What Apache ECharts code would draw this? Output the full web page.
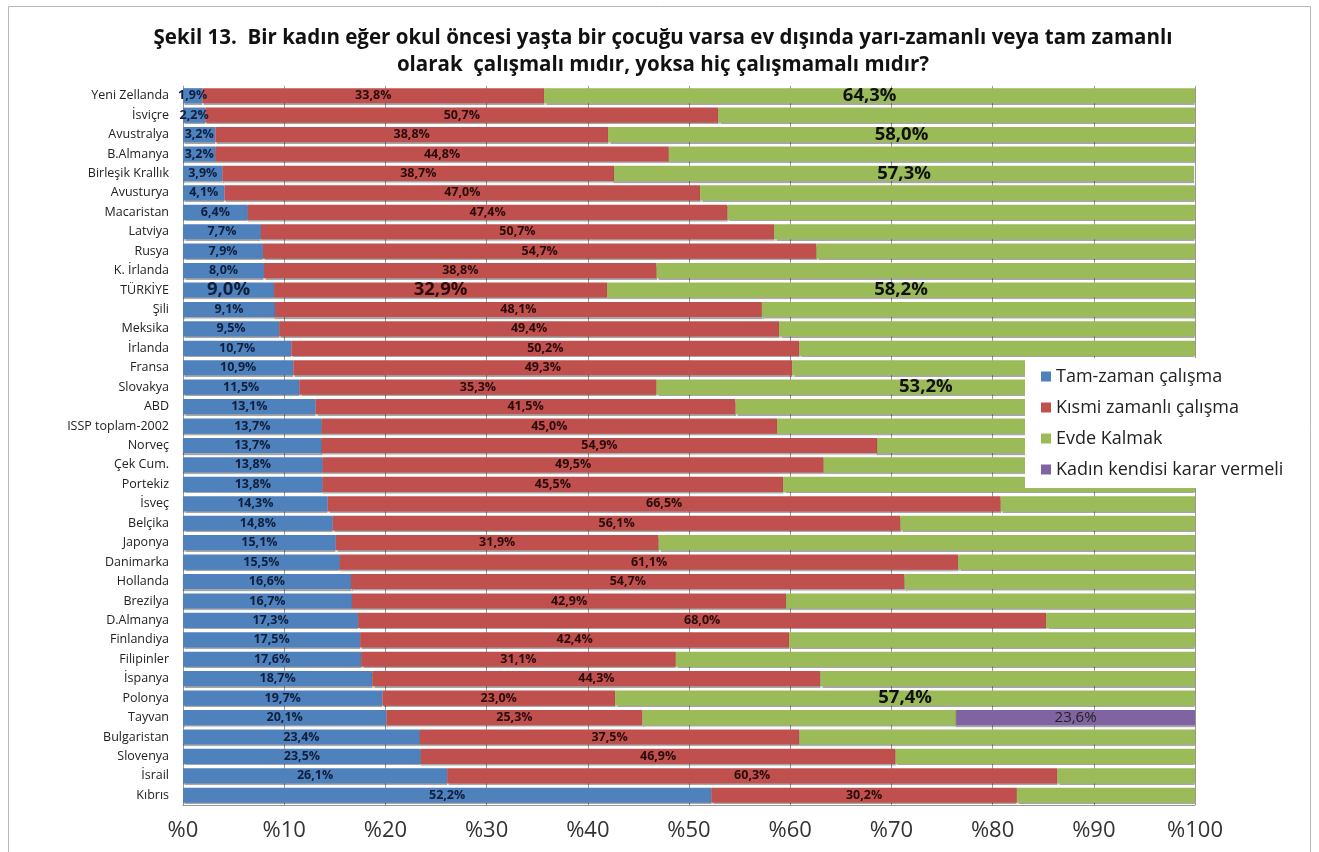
<!DOCTYPE html>
<html><head><meta charset="utf-8">
<script src="https://cdn.jsdelivr.net/npm/echarts@6/dist/echarts.min.js"></script>
<style>html,body{margin:0;padding:0;background:#fff}#c{width:1319px;height:852px}</style>
</head><body><div id="c"></div>
<script>
const countries = ['Yeni Zellanda','İsviçre','Avustralya','B.Almanya','Birleşik Krallık','Avusturya','Macaristan','Latviya','Rusya','K. İrlanda','TÜRKİYE','Şili','Meksika','İrlanda','Fransa','Slovakya','ABD','ISSP toplam-2002','Norveç','Çek Cum.','Portekiz','İsveç','Belçika','Japonya','Danimarka','Hollanda','Brezilya','D.Almanya','Finlandiya','Filipinler','İspanya','Polonya','Tayvan','Bulgaristan','Slovenya','İsrail','Kıbrıs'];
const fullTime = [1.9,2.2,3.2,3.2,3.9,4.1,6.4,7.7,7.9,8.0,9.0,9.1,9.5,10.7,10.9,11.5,13.1,13.7,13.7,13.8,13.8,14.3,14.8,15.1,15.5,16.6,16.7,17.3,17.5,17.6,18.7,19.7,20.1,23.4,23.5,26.1,52.2];
const partTime = [33.8,50.7,38.8,44.8,38.7,47.0,47.4,50.7,54.7,38.8,32.9,48.1,49.4,50.2,49.3,35.3,41.5,45.0,54.9,49.5,45.5,66.5,56.1,31.9,61.1,54.7,42.9,68.0,42.4,31.1,44.3,23.0,25.3,37.5,46.9,60.3,30.2];
const stayHome = [64.3,47.1,58.0,52.0,57.3,48.9,46.2,41.6,37.4,53.2,58.2,42.8,41.1,39.1,39.8,53.2,45.4,41.3,31.4,36.7,40.7,19.2,29.1,53.0,23.4,28.7,40.4,14.7,40.1,51.3,37.0,57.4,31.0,39.1,29.6,13.6,17.6];
const womanDecides = [null,null,null,null,null,null,null,null,null,null,null,null,null,null,null,null,null,null,null,null,null,null,null,null,null,null,null,null,null,null,null,null,23.6,null,null,null,null];
const stayHomeLabelled = ['Yeni Zellanda','Avustralya','Birleşik Krallık','TÜRKİYE','Slovakya','Polonya'];
const highlight = 'TÜRKİYE';
const seriesNames = ['Tam-zaman çalışma','Kısmi zamanlı çalışma','Evde Kalmak','Kadın kendisi karar vermeli'];

const fmt = v => (typeof v === 'number' ? v : v.value).toFixed(1).replace('.', ',') + '%';
const FONT = '"Open Sans", "Noto Sans", sans-serif';

function mk(vals, kind){
  return vals.map((v,i)=>{
    if (v == null) return {value: null};
    const c = countries[i];
    const big = c === highlight;
    let lbl = {show:true};
    if (kind === 'green') {
      lbl.show = stayHomeLabelled.indexOf(c) >= 0;
      lbl.fontSize = 18.5;
    } else if (kind !== 'purple' && big) {
      lbl.fontSize = 18.5;
    }
    return {value: v, label: lbl};
  });
}

const chart = echarts.init(document.getElementById('c'), null, {renderer:'canvas'});
const baseLabel = {show:true, position:'inside', formatter: p => fmt(p.value), fontFamily: FONT, fontWeight:'bold', fontSize:12.5};
const bar = {type:'bar', stack:'s', barCategoryGap:'22%', itemStyle:{shadowColor:'rgba(0,0,0,0.35)', shadowOffsetY:1.5, shadowBlur:1}};
chart.setOption({
  animation:false,
  backgroundColor:'#fff',
  title:{
    text:'Şekil 13.  Bir kadın eğer okul öncesi yaşta bir çocuğu varsa ev dışında yarı-zamanlı veya tam zamanlı\nolarak  çalışmalı mıdır, yoksa hiç çalışmamalı mıdır?',
    left: 658, top: 20, textAlign:'center',
    textStyle:{fontFamily:FONT, fontSize:20.5, fontWeight:'bold', color:'#111', lineHeight:27}
  },
  graphic:[{type:'rect', shape:{x:8.5,y:6.5,width:1302,height:860}, style:{fill:'none', stroke:'#b8b8b8', lineWidth:1}, silent:true}],
  legend:{
    orient:'vertical', left:1025, top:358,
    backgroundColor:'#fff', padding:[8,8,8,16],
    itemWidth:10, itemHeight:10, itemGap:10,
    icon:'rect',
    textStyle:{fontFamily:FONT, fontSize:18, color:'#222', lineHeight:21},
    data: seriesNames
  },
  grid:{left:183, right:124, top:86, bottom:47, containLabel:false},
  xAxis:{
    type:'value', min:0, max:100, interval:10,
    axisLine:{show:true, lineStyle:{color:'#999'}},
    axisTick:{show:false},
    splitLine:{show:true, lineStyle:{color:'#9a9a9a', width:1}},
    axisLabel:{formatter: v => '%' + v, fontFamily:FONT, fontSize:22, color:'#333', margin:15}
  },
  yAxis:{
    type:'category', inverse:true, data:countries,
    axisLine:{show:true, lineStyle:{color:'#999'}},
    axisTick:{show:false},
    axisLabel:{fontFamily:FONT, fontSize:12.5, color:'#222', margin:14}
  },
  series:[
    Object.assign({}, bar, {name:seriesNames[0], color:'#4f81bd', data:mk(fullTime,'blue'), label:Object.assign({}, baseLabel, {color:'#0e1f3d'})}),
    Object.assign({}, bar, {name:seriesNames[1], color:'#c0504d', data:mk(partTime,'red'), label:Object.assign({}, baseLabel, {color:'#2a0b0b'})}),
    Object.assign({}, bar, {name:seriesNames[2], color:'#9bbb59', data:mk(stayHome,'green'), label:Object.assign({}, baseLabel, {color:'#111'})}),
    Object.assign({}, bar, {name:seriesNames[3], color:'#8064a2', data:mk(womanDecides,'purple'), label:Object.assign({}, baseLabel, {color:'#222', fontWeight:'normal', fontSize:15})})
  ]
});
</script></body></html>
